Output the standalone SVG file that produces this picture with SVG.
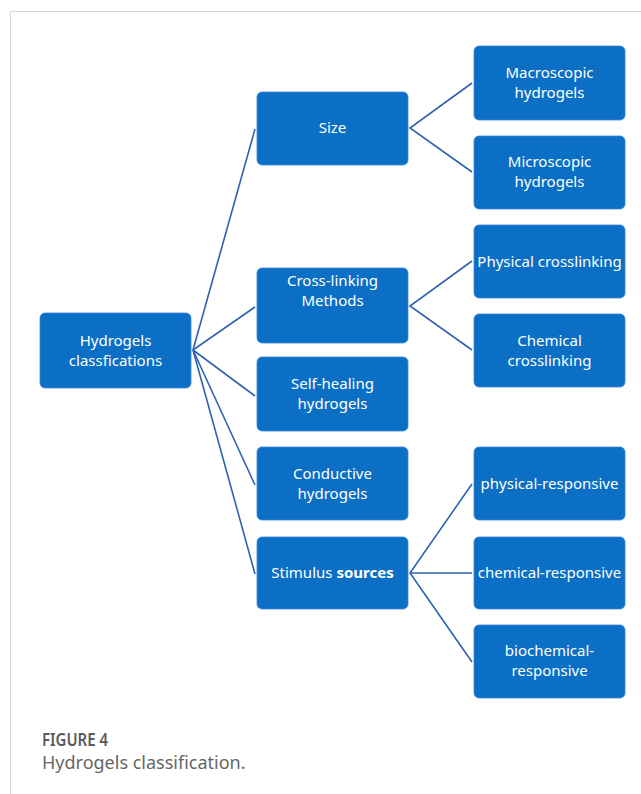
<svg xmlns="http://www.w3.org/2000/svg" width="641" height="794" viewBox="0 0 641 794">
<style>
.box{fill:#0b6fc6;stroke:#3a86d4;stroke-width:0.8}
.t{font-family:"Noto Sans","Noto Sans CJK SC",sans-serif;font-size:15px;fill:#ffffff;text-anchor:middle}
.c{stroke:#2d63b0;stroke-width:1.6;fill:none}
.cap1{font-family:"Noto Sans","Liberation Sans",sans-serif;font-size:17.5px;font-weight:600;fill:#5a5a5a}
.cap2{font-family:"Noto Sans","Liberation Sans",sans-serif;font-size:18px;fill:#666666}
</style>
<rect width="641" height="794" fill="#ffffff"/>
<path d="M10.5 794 V11.5 H641" fill="none" stroke="#d8d8d8" stroke-width="1"/>
<g id="connectors">
<line class="c" x1="193" y1="350" x2="255" y2="129"/>
<line class="c" x1="193" y1="350" x2="255" y2="307"/>
<line class="c" x1="193" y1="350" x2="255" y2="396"/>
<line class="c" x1="193" y1="350" x2="255" y2="485"/>
<line class="c" x1="193" y1="350" x2="255" y2="574"/>
<polyline class="c" points="472,83 410,128 472,172"/>
<polyline class="c" points="472,261 410,306 472,350"/>
<polyline class="c" points="472,484 410,573 472,662"/>
<line class="c" x1="410" y1="573" x2="472" y2="573"/>
</g>
<g id="n-root"><rect class="box" x="40" y="313" width="151" height="75" rx="5"/><text class="t" x="115.5" y="346">Hydrogels</text><text class="t" x="115.5" y="366">classfications</text></g>
<g id="n-size"><rect class="box" x="257" y="92" width="151" height="73" rx="5"/><text class="t" x="332.5" y="133">Size</text></g>
<g id="n-cross"><rect class="box" x="257" y="268" width="151" height="75" rx="5"/><text class="t" x="332.5" y="286">Cross-linking</text><text class="t" x="332.5" y="306">Methods</text></g>
<g id="n-self"><rect class="box" x="257" y="357" width="151" height="74" rx="5"/><text class="t" x="332.5" y="389">Self-healing</text><text class="t" x="332.5" y="409">hydrogels</text></g>
<g id="n-cond"><rect class="box" x="257" y="447" width="151" height="73" rx="5"/><text class="t" x="332.5" y="479">Conductive</text><text class="t" x="332.5" y="499">hydrogels</text></g>
<g id="n-stim"><rect class="box" x="257" y="537" width="151" height="72" rx="5"/><text class="t" x="332.5" y="578">Stimulus <tspan font-weight="bold">sources</tspan></text></g>
<g id="n-macro"><rect class="box" x="474" y="46" width="151" height="74" rx="5"/><text class="t" x="549.5" y="78">Macroscopic</text><text class="t" x="549.5" y="98">hydrogels</text></g>
<g id="n-micro"><rect class="box" x="474" y="136" width="151" height="73" rx="5"/><text class="t" x="549.5" y="167">Microscopic</text><text class="t" x="549.5" y="187">hydrogels</text></g>
<g id="n-phys"><rect class="box" x="474" y="225" width="151" height="73" rx="5"/><text class="t" x="549.5" y="267">Physical crosslinking</text></g>
<g id="n-chem"><rect class="box" x="474" y="314" width="151" height="73" rx="5"/><text class="t" x="549.5" y="346">Chemical</text><text class="t" x="549.5" y="366">crosslinking</text></g>
<g id="n-physr"><rect class="box" x="474" y="447" width="151" height="73" rx="5"/><text class="t" x="549.5" y="489">physical-responsive</text></g>
<g id="n-chemr"><rect class="box" x="474" y="537" width="151" height="72" rx="5"/><text class="t" x="549.5" y="578">chemical-responsive</text></g>
<g id="n-bior"><rect class="box" x="474" y="625" width="151" height="73" rx="5"/><text class="t" x="549.5" y="656">biochemical-</text><text class="t" x="549.5" y="676">responsive</text></g>
<text class="cap1" x="42" y="746" textLength="66" lengthAdjust="spacingAndGlyphs">FIGURE 4</text>
<text class="cap2" x="42" y="769">Hydrogels classification.</text>
</svg>
